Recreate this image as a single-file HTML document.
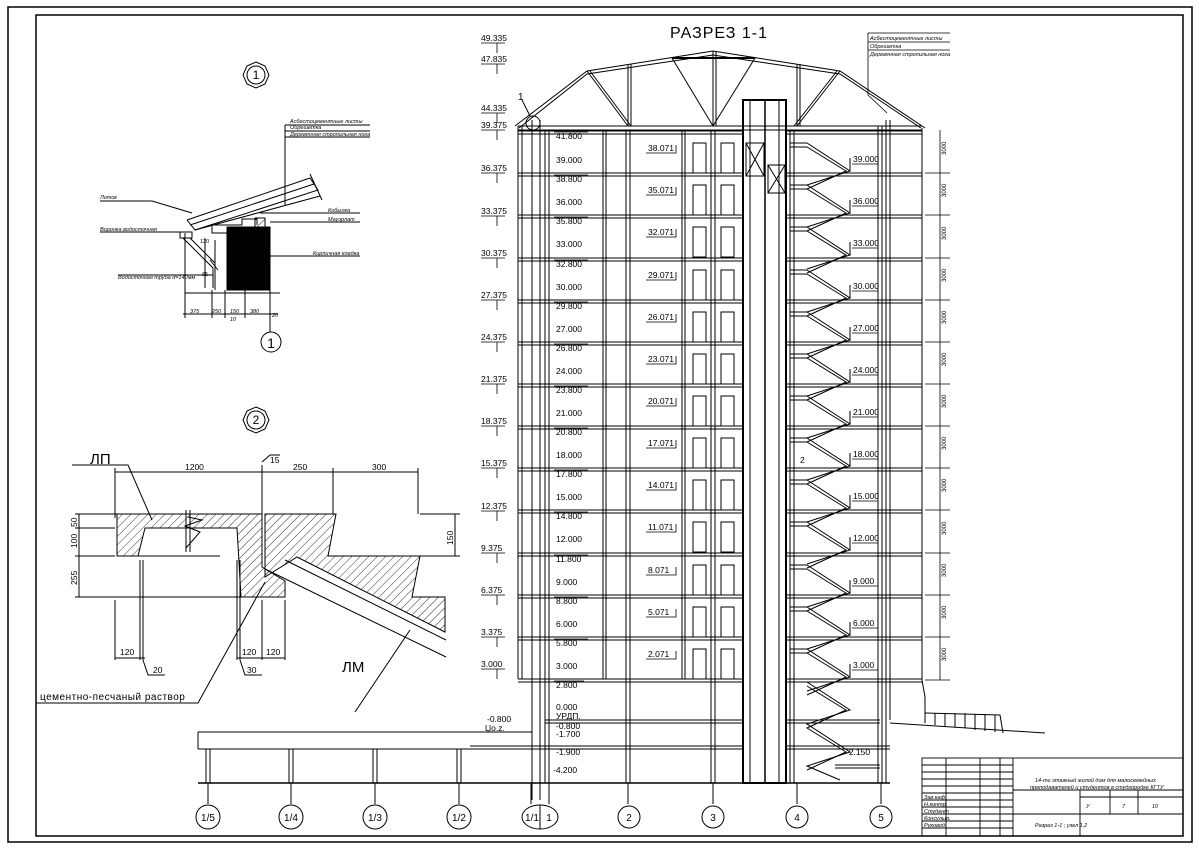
<!DOCTYPE html>
<html><head><meta charset="utf-8"><style>
html,body{margin:0;padding:0;background:#fff}
svg{display:block}
text{font-family:"Liberation Sans","DejaVu Sans",sans-serif;fill:#000}
</style></head><body>
<svg width="1199" height="850" viewBox="0 0 1199 850" xmlns="http://www.w3.org/2000/svg">
<defs>
<pattern id="h" width="6" height="6" patternUnits="userSpaceOnUse" patternTransform="rotate(45)">
<line x1="0" y1="0" x2="0" y2="6" stroke="#000" stroke-width="0.8"/>
</pattern>
<g id="fl">
<line x1="518" y1="0" x2="743" y2="0" stroke="#000" stroke-width="1"/>
<line x1="518" y1="3" x2="743" y2="3" stroke="#000" stroke-width="1"/>
<line x1="786" y1="0" x2="922" y2="0" stroke="#000"/>
<line x1="786" y1="3" x2="922" y2="3" stroke="#000"/>
<rect x="693" y="12" width="13" height="30" fill="none" stroke="#000"/>
<rect x="721" y="12" width="13" height="30" fill="none" stroke="#000"/>
<polyline points="807,12 850,40 807,54" fill="none" stroke="#000"/>
<polyline points="807,16 846,40 807,58" fill="none" stroke="#000"/>
<line x1="790" y1="12" x2="807" y2="12" stroke="#000"/>
<line x1="790" y1="16" x2="807" y2="16" stroke="#000"/>
<line x1="850" y1="40" x2="850" y2="27" stroke="#000"/>
</g>
</defs>
<rect x="8" y="7" width="1184" height="835" fill="none" stroke="#000" stroke-width="1.5"/>
<rect x="36" y="15" width="1147" height="821" fill="none" stroke="#000" stroke-width="1.5"/>

<text x="670" y="38" font-size="16" letter-spacing="1">РАЗРЕЗ 1-1</text>

<g stroke="#000" fill="none">
<polyline points="515,126 587,71 713,51 840,71 925,128"/>
<polyline points="519,128 587,74 713,55 840,74 921,128"/>
<line x1="518" y1="126" x2="922" y2="126"/>
<line x1="518" y1="130" x2="922" y2="130"/>
<line x1="587" y1="71" x2="628" y2="126"/><line x1="590" y1="71" x2="631" y2="126"/>
<line x1="628" y1="64" x2="628" y2="126"/><line x1="631" y1="64" x2="631" y2="126"/>
<line x1="672" y1="58" x2="713" y2="126"/><line x1="755" y1="58" x2="713" y2="126"/>
<line x1="672" y1="58" x2="755" y2="58" stroke-width="2"/>
<line x1="713" y1="51" x2="713" y2="126"/><line x1="716" y1="51" x2="716" y2="126"/>
<line x1="797" y1="64" x2="797" y2="126"/><line x1="800" y1="64" x2="800" y2="126"/>
<line x1="840" y1="71" x2="797" y2="126"/><line x1="837" y1="71" x2="794" y2="126"/>
<circle cx="533" cy="123" r="7"/>
<line x1="522" y1="100" x2="530" y2="116"/>
</g>
<text x="518" y="100" font-size="10">1</text>

<use href="#fl" y="131"/><use href="#fl" y="173"/><use href="#fl" y="215"/><use href="#fl" y="258"/>
<use href="#fl" y="300"/><use href="#fl" y="342"/><use href="#fl" y="384"/><use href="#fl" y="426"/>
<use href="#fl" y="468"/><use href="#fl" y="510"/><use href="#fl" y="553"/><use href="#fl" y="595"/>
<use href="#fl" y="637"/>
<g stroke="#000" fill="none">
<line x1="518" y1="679" x2="743" y2="679"/><line x1="518" y1="682" x2="743" y2="682"/>
<line x1="786" y1="679" x2="922" y2="679"/><line x1="786" y1="682" x2="922" y2="682"/>
<line x1="545" y1="720" x2="743" y2="720"/><line x1="545" y1="723" x2="743" y2="723"/>
<line x1="786" y1="720" x2="880" y2="720"/><line x1="786" y1="723" x2="880" y2="723"/>
<line x1="470" y1="746" x2="743" y2="746"/><line x1="198" y1="749" x2="743" y2="749"/>
<line x1="786" y1="746" x2="890" y2="746"/><line x1="786" y1="749" x2="890" y2="749"/>
<line x1="198" y1="783" x2="890" y2="783" stroke-width="1.5"/>
<line x1="198" y1="732" x2="532" y2="732"/>
<line x1="198" y1="732" x2="198" y2="749"/>
<polyline points="807,682 850,710 807,724 850,752 807,766 840,780"/>
<polyline points="807,686 846,710 807,728 846,752 807,770"/>
<line x1="835" y1="765" x2="880" y2="765"/><line x1="835" y1="768" x2="880" y2="768"/>
<line x1="518" y1="126" x2="518" y2="679"/><line x1="522" y1="126" x2="522" y2="679"/>
<line x1="532" y1="120" x2="532" y2="800"/><line x1="540" y1="120" x2="540" y2="800"/>
<line x1="545" y1="130" x2="545" y2="783"/><line x1="549" y1="130" x2="549" y2="783"/>
<line x1="603" y1="130" x2="603" y2="679"/><line x1="606" y1="130" x2="606" y2="679"/>
<line x1="626" y1="130" x2="626" y2="783"/><line x1="630" y1="130" x2="630" y2="783"/>
<line x1="682" y1="130" x2="682" y2="679"/><line x1="685" y1="130" x2="685" y2="679"/>
<line x1="711" y1="130" x2="711" y2="783"/><line x1="715" y1="130" x2="715" y2="783"/>
<rect x="743" y="100" width="43" height="683" stroke-width="2"/>
<line x1="765" y1="100" x2="765" y2="783" stroke-width="1.5"/>
<line x1="750" y1="100" x2="750" y2="783"/><line x1="779" y1="100" x2="779" y2="783"/>
<rect x="746" y="143" width="18" height="33"/><path d="M746 143 L764 176 M764 143 L746 176"/>
<rect x="768" y="165" width="17" height="28"/><path d="M768 165 L785 193 M785 165 L768 193"/>
<line x1="790" y1="130" x2="790" y2="783"/><line x1="794" y1="130" x2="794" y2="783"/>
<line x1="878" y1="126" x2="878" y2="783"/><line x1="882" y1="126" x2="882" y2="783"/>
<line x1="886" y1="120" x2="886" y2="783"/><line x1="890" y1="120" x2="890" y2="720"/>
<line x1="922" y1="128" x2="922" y2="680"/>
<line x1="922" y1="680" x2="925" y2="697"/><line x1="925" y1="697" x2="925" y2="723"/>
<line x1="890" y1="723" x2="1045" y2="733"/>
<polyline points="925,713 1000,715 1003,733"/>
<path d="M935 713v12 M945 713v13 M955 713v14 M965 713v15 M975 714v16 M985 714v17 M995 715v17"/>
<line x1="206" y1="749" x2="206" y2="783"/><line x1="210" y1="749" x2="210" y2="783"/>
<line x1="289" y1="749" x2="289" y2="783"/><line x1="293" y1="749" x2="293" y2="783"/>
<line x1="373" y1="749" x2="373" y2="783"/><line x1="377" y1="749" x2="377" y2="783"/>
<line x1="457" y1="749" x2="457" y2="783"/><line x1="461" y1="749" x2="461" y2="783"/>
<path d="M208 783v21 M291 783v21 M375 783v21 M459 783v21 M531 783v21 M549 783v21 M628 783v21 M713 783v21 M797 783v21 M881 783v21"/>
<circle cx="208" cy="817" r="12"/><circle cx="291" cy="817" r="12"/><circle cx="375" cy="817" r="12"/>
<circle cx="459" cy="817" r="12"/><ellipse cx="540" cy="817" rx="18" ry="12"/><line x1="540" y1="805" x2="540" y2="829"/>
<circle cx="629" cy="817" r="11"/><circle cx="713" cy="817" r="11"/><circle cx="797" cy="817" r="11"/><circle cx="881" cy="817" r="11"/>
</g>
<g font-size="10" text-anchor="middle">
<text x="208" y="821">1/5</text><text x="291" y="821">1/4</text><text x="375" y="821">1/3</text><text x="459" y="821">1/2</text>
<text x="532" y="821">1/1</text><text x="549" y="821">1</text><text x="629" y="821">2</text><text x="713" y="821">3</text><text x="797" y="821">4</text><text x="881" y="821">5</text>
</g>

<g font-size="8.5">
<text x="556" y="139">41.800</text><text x="556" y="163">39.000</text>
<text x="556" y="182">38.800</text><text x="556" y="205">36.000</text>
<text x="556" y="224">35.800</text><text x="556" y="247">33.000</text>
<text x="556" y="267">32.800</text><text x="556" y="290">30.000</text>
<text x="556" y="309">29.800</text><text x="556" y="332">27.000</text>
<text x="556" y="351">26.800</text><text x="556" y="374">24.000</text>
<text x="556" y="393">23.800</text><text x="556" y="416">21.000</text>
<text x="556" y="435">20.800</text><text x="556" y="458">18.000</text>
<text x="556" y="477">17.800</text><text x="556" y="500">15.000</text>
<text x="556" y="519">14.800</text><text x="556" y="542">12.000</text>
<text x="556" y="562">11.800</text><text x="556" y="585">9.000</text>
<text x="556" y="604">8.800</text><text x="556" y="627">6.000</text>
<text x="556" y="646">5.800</text><text x="556" y="669">3.000</text>
<text x="556" y="688">2.800</text>
<text x="556" y="710">0.000</text><text x="556" y="719">УРДП.</text>
<text x="556" y="729">-0.800</text><text x="556" y="737">-1.700</text>
<text x="556" y="755">-1.900</text><text x="553" y="773">-4.200</text>
<text x="648" y="151">38.071</text><text x="648" y="193">35.071</text><text x="648" y="235">32.071</text>
<text x="648" y="278">29.071</text><text x="648" y="320">26.071</text><text x="648" y="362">23.071</text>
<text x="648" y="404">20.071</text><text x="648" y="446">17.071</text><text x="648" y="488">14.071</text>
<text x="648" y="530">11.071</text><text x="648" y="573">8.071</text><text x="648" y="615">5.071</text>
<text x="648" y="657">2.071</text>
<text x="853" y="162">39.000</text><text x="853" y="204">36.000</text><text x="853" y="246">33.000</text>
<text x="853" y="289">30.000</text><text x="853" y="331">27.000</text><text x="853" y="373">24.000</text>
<text x="853" y="415">21.000</text><text x="853" y="457">18.000</text><text x="853" y="499">15.000</text>
<text x="853" y="541">12.000</text><text x="853" y="584">9.000</text><text x="853" y="626">6.000</text>
<text x="853" y="668">3.000</text><text x="846" y="755">-2.150</text>
<text x="800" y="463">2</text>
</g>
<g stroke="#000" stroke-width="0.8" fill="none">
<path d="M554 132h34 M554 175h34 M554 217h34 M554 260h34 M554 302h34 M554 344h34 M554 386h34 M554 428h34 M554 470h34 M554 512h34 M554 555h34 M554 597h34 M554 639h34 M554 681h30"/>
<path d="M646 153h30v-8 M646 195h30v-8 M646 237h30v-8 M646 280h30v-8 M646 322h30v-8 M646 364h30v-8 M646 406h30v-8 M646 448h30v-8 M646 490h30v-8 M646 532h30v-8 M646 575h30v-8 M646 617h30v-8 M646 659h30v-8"/>
<path d="M852 164h26 M852 206h26 M852 248h26 M852 291h26 M852 333h26 M852 375h26 M852 417h26 M852 459h26 M852 501h26 M852 543h26 M852 586h26 M852 628h26 M852 670h26"/>
</g>

<g font-size="8.5">
<text x="481" y="41">49.335</text><text x="481" y="62">47.835</text><text x="481" y="111">44.335</text>
<text x="481" y="128">39.375</text><text x="481" y="171">36.375</text><text x="481" y="214">33.375</text>
<text x="481" y="256">30.375</text><text x="481" y="298">27.375</text><text x="481" y="340">24.375</text>
<text x="481" y="382">21.375</text><text x="481" y="424">18.375</text><text x="481" y="466">15.375</text>
<text x="481" y="509">12.375</text><text x="481" y="551">9.375</text><text x="481" y="593">6.375</text>
<text x="481" y="635">3.375</text><text x="481" y="667">3.000</text>
<text x="487" y="722">-0.800</text><text x="485" y="731">Џо.z.</text>
</g>
<g stroke="#000" stroke-width="0.8" fill="none">
<path d="M481 43h24 M497 43v10 M481 64h24 M497 64v10 M481 113h24 M497 113v10 M481 130h24 M497 130v10 M481 173h24 M497 173v10 M481 216h24 M497 216v10 M481 258h24 M497 258v10 M481 300h24 M497 300v10 M481 342h24 M497 342v10 M481 384h24 M497 384v10 M481 426h24 M497 426v10 M481 468h24 M497 468v10 M481 511h24 M497 511v10 M481 553h24 M497 553v10 M481 595h24 M497 595v10 M481 637h24 M497 637v10 M481 669h24 M497 669v10"/>
<line x1="940" y1="130" x2="940" y2="680"/>
<path d="M925 173h25 M925 215h25 M925 258h25 M925 300h25 M925 342h25 M925 384h25 M925 426h25 M925 468h25 M925 510h25 M925 553h25 M925 595h25 M925 637h25 M925 680h25"/>
<path d="M868 33h82 M868 42h82 M868 50h82 M868 33v62 L887 113"/>
</g>
<g font-size="5.5" font-style="italic">
<text x="870" y="40">Асбестоцементные листы</text><text x="870" y="48">Обрешетка</text><text x="870" y="56">Деревянная стропильная нога</text>
</g>
<g font-size="6" transform="rotate(-90)">
<text x="-155" y="946">3000</text><text x="-197" y="946">3000</text><text x="-240" y="946">3000</text><text x="-282" y="946">3000</text>
<text x="-324" y="946">3000</text><text x="-366" y="946">3000</text><text x="-408" y="946">3000</text><text x="-450" y="946">3000</text>
<text x="-492" y="946">3000</text><text x="-535" y="946">3000</text><text x="-577" y="946">3000</text><text x="-619" y="946">3000</text><text x="-661" y="946">3000</text>
</g>

<g stroke="#000" fill="none" stroke-width="0.9">
<rect x="922" y="758" width="261" height="78"/>
<path d="M946 758v78 M980 758v78 M1000 758v78 M1013 758v78 M1080 790v46 M1110 790v24 M1138 790v24"/>
<path d="M922 765h91 M922 772h91 M922 779h91 M922 786h91 M922 793h91 M922 800h91 M922 807h91 M922 814h91 M922 821h91 M922 828h91"/>
<path d="M1013 790h170 M1080 797h103 M1013 814h170"/>
</g>
<g font-size="5.5" font-style="italic">
<text x="1035" y="782">14-ти этажный жилой дом для малосемейных</text>
<text x="1030" y="789">преподавателей и студентов в студгородке КГТУ</text>
<text x="1086" y="808">У</text><text x="1122" y="808">7</text><text x="1152" y="808">10</text>
<text x="1035" y="827">Разрез 1-1 ; узел 1,2</text>
<text x="924" y="799">Зав.каф.</text><text x="924" y="806">Н.контр.</text><text x="924" y="813">Студент</text><text x="924" y="820">Консульт.</text><text x="924" y="827">Руковод.</text>
</g>

<g stroke="#000" fill="none">
<polygon points="256,62 265,66 269,75 265,84 256,88 247,84 243,75 247,66"/>
<circle cx="256" cy="75" r="9"/>
<circle cx="271" cy="342" r="10"/>
<line x1="270" y1="300" x2="270" y2="332"/>
<polyline points="187,220 310,178 318,190 195,230 187,220"/>
<line x1="190" y1="225" x2="314" y2="184"/>
<line x1="195" y1="230" x2="320" y2="196"/>
<line x1="310" y1="174" x2="322" y2="200"/>
<path d="M212 225h30v-6h15v6 M212 225v8h15"/>
<rect x="227" y="227" width="43" height="63" fill="#000"/>
<rect x="255" y="218" width="10" height="9" fill="url(#h)"/>
<path d="M180 232h12v6h-12z M183 238l30 30v20 M190 238l25 25 M185 233v60 M205 238v50 M215 240v50 M210 260l8 10"/>
<path d="M185 293h95 M185 290v28 M212 290v28 M225 290v28 M245 290v28 M270 290v28 M183 314h95"/>
<path d="M285 137h85 M285 131h85 M285 125h85 M285 125v80 M100 201h52 L192 213 M260 213h100 M270 222h90 M270 256h90 M100 232h80 M118 275h95"/>
</g>
<g font-size="5.5" font-style="italic">
<text x="290" y="123">Асбестоцементные листы</text><text x="290" y="129">Обрешетка</text><text x="290" y="136">Деревянная стропильная нога</text>
<text x="100" y="199">Лоток</text><text x="328" y="212">Кобылка</text><text x="328" y="221">Мауэрлат</text>
<text x="100" y="231">Воронка водосточная</text><text x="313" y="255">Кирпичная кладка</text>
<text x="118" y="279">Водосточная труба d=140мм</text>
<text x="190" y="313">375</text><text x="212" y="313">250</text><text x="230" y="313">150</text><text x="250" y="313">380</text><text x="272" y="317">20</text><text x="230" y="321">10</text>
<text x="200" y="243" font-style="normal">120</text><text x="202" y="276" font-style="normal">65</text>
</g>
<text x="256" y="79" font-size="12" text-anchor="middle" font-family="Liberation Serif">1</text>
<text x="271" y="348" font-size="14" text-anchor="middle" font-family="Liberation Serif">1</text>

<g stroke="#000" fill="none">
<polygon points="256,407 265,411 269,420 265,429 256,433 247,429 243,420 247,411"/>
<circle cx="256" cy="420" r="9"/>
<polygon points="117,514 262,514 262,567 285,581 285,597 241,597 237,528 145,528 138,556 117,556" fill="url(#h)"/>
<polygon points="265,514 336,514 328,556 420,556 412,597 445,597 445,632 297,557 265,577" fill="url(#h)"/>
<path d="M265,569 L446,657 M285,560 L446,640 M355,712 L410,630"/>
<path d="M117,556 H220 M328,556 H420"/>
<path d="M115,472 H418 M115,468 v50 M262,465 v50 M333,468 v46 M418,468 v46 M262,462 l8,-7 h10"/>
<path d="M79,514 V597 M75,514 h45 M75,528 h40 M75,556 h40 M75,597 h170 M455,514 V556 M420,514 h40 M420,556 h40"/>
<path d="M115,600 V660 M140,560 V660 M143,560 V660 M237,560 V660 M240,560 V660 M262,600 V660 M285,600 V660"/>
<path d="M115,658 H145 M237,658 H285 M143,660 L148,675 H165 M240,660 L245,675 H262"/>
<path d="M72,465 H128 L152,520 M36,703 H198 L265,582"/>
<path d="M188,517 L202,520 L185,526 L200,532 L186,548 M186,510 V552 M190,510 V552"/>
</g>
<text x="256" y="424" font-size="12" text-anchor="middle" font-family="Liberation Serif">2</text>
<g font-size="8.5">
<text x="185" y="470">1200</text><text x="270" y="463">15</text><text x="293" y="470">250</text><text x="372" y="470">300</text>
<text x="120" y="655">120</text><text x="242" y="655">120</text><text x="266" y="655">120</text>
<text x="153" y="673">20</text><text x="247" y="673">30</text>
</g>
<g font-size="8.5" transform="rotate(-90)">
<text x="-527" y="77">50</text><text x="-548" y="77">100</text><text x="-585" y="77">255</text><text x="-545" y="453">150</text>
</g>
<text x="90" y="464" font-size="15">ЛП</text>
<text x="342" y="672" font-size="15">ЛМ</text>
<text x="40" y="700" font-size="10" letter-spacing="0.5">цементно-песчаный раствор</text>
</svg>
</body></html>
